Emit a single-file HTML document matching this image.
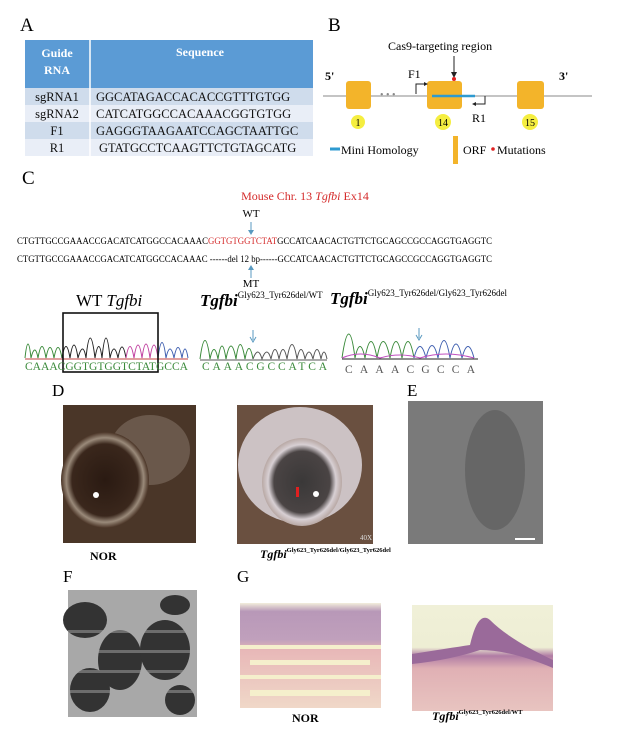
<!DOCTYPE html><html><head><meta charset="utf-8"><style>
body{margin:0;background:#fff}
svg{display:block;font-family:"Liberation Serif",serif}
</style></head><body>
<svg width="621" height="736" viewBox="0 0 621 736" xmlns="http://www.w3.org/2000/svg">
<defs>
<radialGradient id="eye1" cx="0.5" cy="0.5" r="0.5"><stop offset="0" stop-color="#2a1a12"/><stop offset="0.75" stop-color="#3a271c"/><stop offset="0.88" stop-color="#9a8a7a"/><stop offset="1" stop-color="#4a3426"/></radialGradient>
<radialGradient id="eye2" cx="0.5" cy="0.5" r="0.5"><stop offset="0" stop-color="#3a3838"/><stop offset="0.7" stop-color="#4a4444"/><stop offset="0.85" stop-color="#d8d0d4"/><stop offset="1" stop-color="#b8a8a4"/></radialGradient>
<linearGradient id="he1" x1="0" y1="0" x2="0" y2="1"><stop offset="0" stop-color="#f2eedc"/><stop offset="0.08" stop-color="#b898b8"/><stop offset="0.35" stop-color="#c0a0bc"/><stop offset="0.45" stop-color="#e8b8b8"/><stop offset="1" stop-color="#f0d8c8"/></linearGradient>
<linearGradient id="he2" x1="0" y1="0" x2="0" y2="1"><stop offset="0" stop-color="#f0f0d8"/><stop offset="0.4" stop-color="#eeeed4"/><stop offset="0.48" stop-color="#b07ca4"/><stop offset="0.6" stop-color="#e0b0b4"/><stop offset="1" stop-color="#e8c4c0"/></linearGradient>
</defs>
<!-- A -->
<text x="20" y="31" font-size="19">A</text>
<rect x="25" y="40" width="288" height="48" fill="#5b9bd5"/>
<rect x="25" y="88" width="288" height="17" fill="#cfdcec"/>
<rect x="25" y="105" width="288" height="17" fill="#e9eef7"/>
<rect x="25" y="122" width="288" height="17" fill="#cfdcec"/>
<rect x="25" y="139" width="288" height="17" fill="#e9eef7"/>
<line x1="90" y1="40" x2="90" y2="156" stroke="#fff" stroke-width="1.5"/>
<g fill="#fff" font-size="12" font-weight="bold" text-anchor="middle"><text x="57" y="57">Guide</text><text x="57" y="74">RNA</text><text x="200" y="56">Sequence</text></g>
<g font-size="12.5" fill="#111"><text x="57" y="101" text-anchor="middle">sgRNA1</text><text x="57" y="118" text-anchor="middle">sgRNA2</text><text x="57" y="135" text-anchor="middle">F1</text><text x="57" y="152" text-anchor="middle">R1</text>
<text x="96" y="101">GGCATAGACCACACCGTTTGTGG</text><text x="96" y="118">CATCATGGCCACAAACGGTGTGG</text><text x="96" y="135">GAGGGTAAGAATCCAGCTAATTGC</text><text x="99" y="152">GTATGCCTCAAGTTCTGTAGCATG</text></g>
<!-- B -->
<text x="328" y="31" font-size="19">B</text>
<text x="388" y="50" font-size="12">Cas9-targeting region</text>
<line x1="323" y1="96" x2="592" y2="96" stroke="#c4c4c4" stroke-width="2"/>
<text x="325" y="80" font-size="12" font-weight="bold">5'</text><text x="559" y="80" font-size="12" font-weight="bold">3'</text>
<text x="380" y="98" font-size="10" fill="#888">• • •</text>
<rect x="346" y="81" width="25" height="28" rx="3" fill="#f3b42a"/>
<rect x="427" y="81" width="35" height="28" rx="3" fill="#f3b42a"/>
<rect x="517" y="81" width="27" height="28" rx="3" fill="#f3b42a"/>
<line x1="432" y1="96" x2="475" y2="96" stroke="#2e9ad0" stroke-width="2.5"/>
<line x1="454" y1="56" x2="454" y2="75" stroke="#222"/><path d="M451,72 L454,78 L457,72Z" fill="#222"/>
<circle cx="454" cy="79" r="2" fill="#e02020"/>
<text x="408" y="78" font-size="12">F1</text>
<path d="M416,94 V84 H426" fill="none" stroke="#222"/><path d="M424,82 L428,84 L424,86Z" fill="#222"/>
<path d="M485,96 V104 H474" fill="none" stroke="#222"/><path d="M476,102 L472,104 L476,106Z" fill="#222"/>
<text x="472" y="122" font-size="12">R1</text>
<circle cx="358" cy="122" r="7" fill="#f5ee40"/><text x="358" y="126" font-size="10" text-anchor="middle">1</text>
<circle cx="443" cy="122" r="8" fill="#f5ee40"/><text x="443" y="126" font-size="10" text-anchor="middle">14</text>
<circle cx="530" cy="122" r="8" fill="#f5ee40"/><text x="530" y="126" font-size="10" text-anchor="middle">15</text>
<line x1="330" y1="149" x2="340" y2="149" stroke="#2e9ad0" stroke-width="3"/>
<text x="341" y="154" font-size="12">Mini Homology</text>
<rect x="453" y="136" width="5" height="28" fill="#f3b42a"/>
<text x="463" y="154" font-size="12">ORF</text>
<circle cx="493" cy="149" r="1.8" fill="#e02020"/><text x="497" y="154" font-size="12">Mutations</text>
<!-- C -->
<text x="22" y="184" font-size="19">C</text>
<text x="305" y="200" font-size="12" fill="#d42a2a" text-anchor="middle">Mouse  Chr. 13 <tspan font-style="italic">Tgfbi</tspan> Ex14</text>
<text x="251" y="217" font-size="11" text-anchor="middle">WT</text>
<line x1="251" y1="222" x2="251" y2="232" stroke="#5a9ac0"/><path d="M248,230 L251,235 L254,230Z" fill="#5a9ac0"/>
<g font-size="9.6"><text x="17" y="244" textLength="475" lengthAdjust="spacingAndGlyphs">CTGTTGCCGAAACCGACATCATGGCCACAAAC<tspan fill="#d42a2a">GGTGTGGTCTAT</tspan>GCCATCAACACTGTTCTGCAGCCGCCAGGTGAGGTC</text>
<text x="17" y="262" textLength="475" lengthAdjust="spacingAndGlyphs">CTGTTGCCGAAACCGACATCATGGCCACAAAC ------del 12 bp------GCCATCAACACTGTTCTGCAGCCGCCAGGTGAGGTC</text></g>
<line x1="251" y1="268" x2="251" y2="278" stroke="#5a9ac0"/><path d="M248,270 L251,265 L254,270Z" fill="#5a9ac0"/>
<text x="251" y="287" font-size="11" text-anchor="middle">MT</text>
<text x="76" y="306" font-size="17">WT <tspan font-style="italic">Tgfbi</tspan></text>
<text x="200" y="306" font-size="17" font-style="italic" font-weight="bold">Tgfbi<tspan font-size="9" font-style="normal" font-weight="normal" dy="-8">Gly623_Tyr626del/WT</tspan></text>
<text x="330" y="304" font-size="17" font-style="italic" font-weight="bold">Tgfbi<tspan font-size="9" font-style="normal" font-weight="normal" dy="-8">Gly623_Tyr626del/Gly623_Tyr626del</tspan></text>
<g fill="none" stroke-width="1">
<path d="M25,358 Q28,330 31,358 Q35,342 38,358 Q42,335 46,358 Q50,337 54,358 Q58,337 62,358" stroke="#3a8a3a"/>
<path d="M62,358 Q66,335 70,358 Q74,332 78,358 Q83,340 86,358 Q90,318 95,358 Q99,335 102,358 Q106,318 110,358 Q114,340 118,358 Q122,336 126,358" stroke="#222"/>
<path d="M126,358 Q130,335 134,358 Q138,332 142,358 Q146,330 150,358 Q154,332 158,358" stroke="#c040a0"/>
<path d="M158,358 Q162,327 166,358 Q170,340 174,358 Q178,337 182,358 Q185,340 188,358" stroke="#4060b0"/>
<path d="M200,359 Q205,322 210,359 Q214,340 218,359 Q222,333 226,359 Q231,333 236,359 Q240,330 245,359 Q249,338 253,359" stroke="#3a8a3a"/>
<path d="M253,359 Q258,345 262,359 Q267,345 271,359 Q275,340 279,359 Q283,340 287,359 Q292,330 297,359 Q301,340 305,359 Q309,345 313,359 Q317,340 321,359 Q324,345 327,359" stroke="#555"/>
<path d="M342,358 Q349,310 355,358 Q360,335 365,358 Q371,325 377,358 Q383,325 390,358 Q396,325 402,358 Q408,325 414,358" stroke="#3a8a3a"/>
<path d="M414,358 Q420,335 426,358 Q432,333 438,358 Q444,323 450,358 Q456,330 462,358 Q468,335 474,358" stroke="#4060b0"/>
<path d="M342,358 Q360,350 380,358 Q400,352 420,358 Q445,350 474,358" stroke="#c050c0"/>
</g>
<line x1="25" y1="359" x2="188" y2="359" stroke="#c04040"/>
<line x1="200" y1="360" x2="327" y2="360" stroke="#555"/>
<line x1="342" y1="359" x2="478" y2="359" stroke="#222"/>
<path d="M253,330 v10 M250,337 l3,5 l3,-5" stroke="#5a9ac0" fill="none"/>
<path d="M419,328 v10 M416,335 l3,5 l3,-5" stroke="#5a9ac0" fill="none"/>
<rect x="63" y="313" width="95" height="59" fill="none" stroke="#111" stroke-width="1.6"/>
<text x="25" y="370" font-size="11.5" textLength="163" lengthAdjust="spacingAndGlyphs" fill="#3a8a3a">CAAACGGTGTGGTCTATGCCA</text>
<text x="202" y="370" font-size="11.5" textLength="125" lengthAdjust="spacing" fill="#3a8a3a">CAAACGCCATCA</text>
<text x="345" y="373" font-size="11.5" textLength="130" lengthAdjust="spacing" fill="#555">CAAACGCCA</text>
<!-- D E -->
<text x="52" y="396" font-size="17">D</text>
<rect x="63" y="405" width="133" height="138" fill="#4a3628"/>
<ellipse cx="150" cy="450" rx="40" ry="35" fill="#8a7a6e" opacity="0.5"/>
<ellipse cx="105" cy="480" rx="44" ry="48" fill="url(#eye1)"/>
<circle cx="96" cy="495" r="3" fill="#fff"/>
<rect x="237" y="405" width="136" height="139" fill="#6a5040"/>
<ellipse cx="300" cy="465" rx="62" ry="58" fill="#ccc2c4"/>
<ellipse cx="302" cy="482" rx="40" ry="44" fill="url(#eye2)"/>
<circle cx="316" cy="494" r="3" fill="#fff"/><rect x="296" y="487" width="3" height="10" fill="#e02020"/>
<text x="360" y="540" font-size="7" fill="#ddd">40X</text>
<text x="407" y="396" font-size="17">E</text>
<rect x="408" y="401" width="135" height="143" fill="#7a7a7a"/>
<ellipse cx="495" cy="470" rx="30" ry="60" fill="#5e5e5e" opacity="0.7"/>
<rect x="515" y="538" width="20" height="2" fill="#fff"/>
<text x="90" y="560" font-size="12" font-weight="bold">NOR</text>
<text x="260" y="558" font-size="12" font-style="italic" font-weight="bold">Tgfbi<tspan font-size="6.5" font-style="normal" dy="-6">Gly623_Tyr626del/Gly623_Tyr626del</tspan></text>
<!-- F G -->
<text x="63" y="582" font-size="17">F</text>
<rect x="68" y="590" width="129" height="127" fill="#a8a8a8"/>
<g fill="#333">
<ellipse cx="85" cy="620" rx="22" ry="18"/><ellipse cx="120" cy="660" rx="22" ry="30"/><ellipse cx="165" cy="650" rx="25" ry="30"/><ellipse cx="90" cy="690" rx="20" ry="22"/><ellipse cx="180" cy="700" rx="15" ry="15"/><ellipse cx="175" cy="605" rx="15" ry="10"/></g>
<g fill="#a8a8a8" opacity="0.5"><rect x="68" y="630" width="129" height="3"/><rect x="68" y="650" width="129" height="3"/><rect x="68" y="670" width="129" height="3"/><rect x="68" y="690" width="129" height="3"/></g>
<text x="237" y="582" font-size="17">G</text>
<rect x="240" y="603" width="141" height="105" fill="url(#he1)"/>
<g fill="#f5efcc"><rect x="240" y="645" width="141" height="4"/><rect x="250" y="660" width="120" height="5"/><rect x="240" y="675" width="141" height="4"/><rect x="250" y="690" width="120" height="6"/></g>
<rect x="412" y="605" width="141" height="106" fill="url(#he2)"/>
<path d="M412,654 Q450,648 470,645 Q478,610 490,620 Q510,640 553,660 L553,668 Q510,650 480,650 Q450,660 412,664Z" fill="#9a6a9a"/>
<text x="292" y="722" font-size="12" font-weight="bold">NOR</text>
<text x="432" y="720" font-size="12" font-style="italic" font-weight="bold">Tgfbi<tspan font-size="6.5" font-style="normal" dy="-6">Gly623_Tyr626del/WT</tspan></text>
</svg>
</body></html>
